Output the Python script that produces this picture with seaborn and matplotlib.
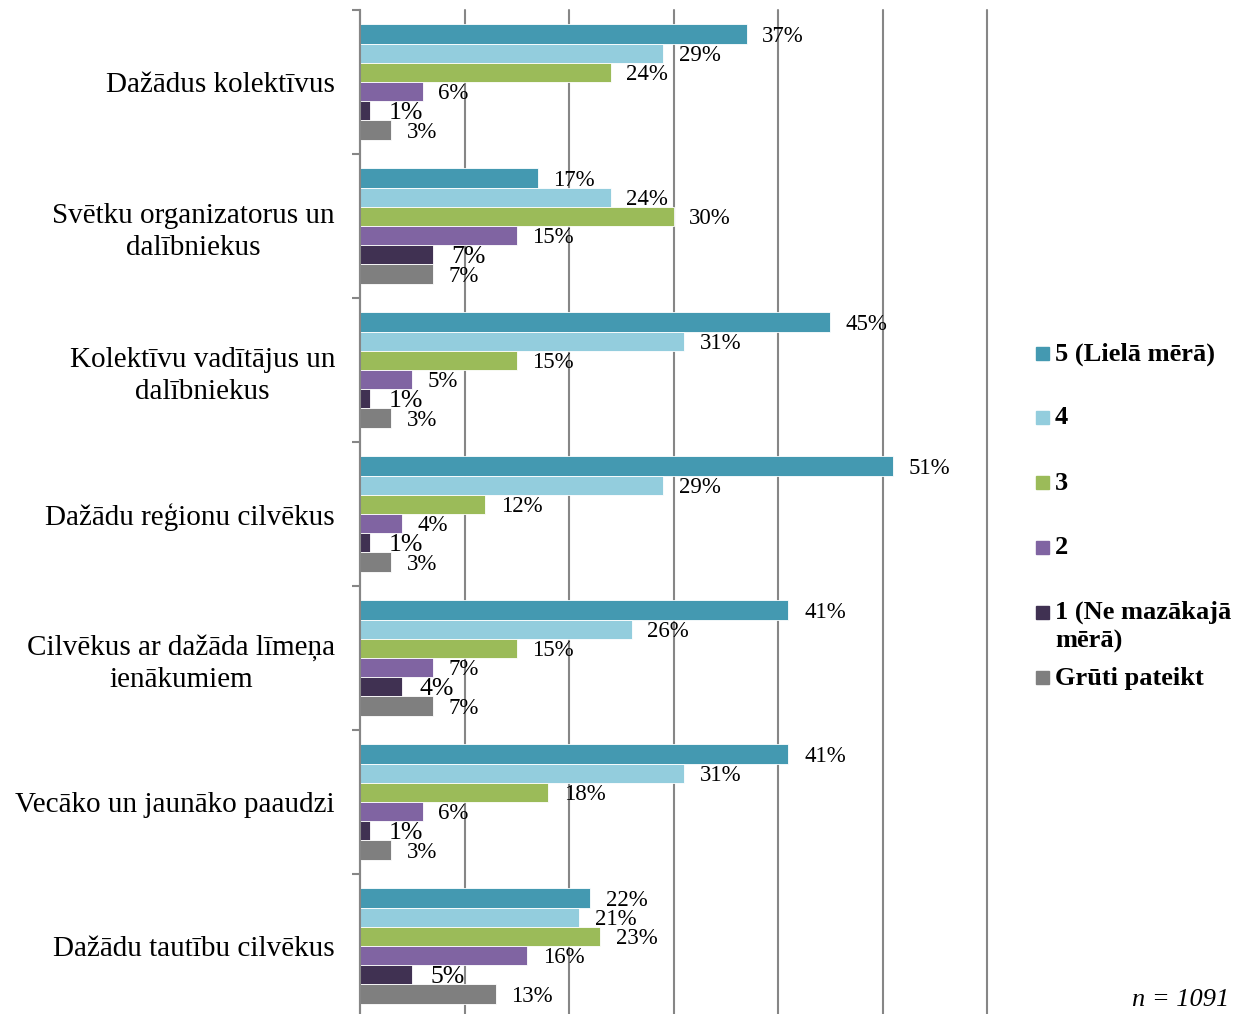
import matplotlib
matplotlib.use("Agg")
import matplotlib.pyplot as plt
from matplotlib.patches import Rectangle
import seaborn as sns
import pandas as pd

categories = [
    "Dažādus kolektīvus",
    "Svētku organizatorus un\ndalībniekus",
    "Kolektīvu vadītājus un\ndalībniekus",
    "Dažādu reģionu cilvēkus",
    "Cilvēkus ar dažāda līmeņa\nienākumiem",
    "Vecāko un jaunāko paaudzi",
    "Dažādu tautību cilvēkus",
]
series_names = ["5 (Lielā mērā)", "4", "3", "2", "1 (Ne mazākajā\nmērā)", "Grūti pateikt"]
s5 = [37, 17, 45, 51, 41, 41, 22]
s4 = [29, 24, 31, 29, 26, 31, 21]
s3 = [24, 30, 15, 12, 15, 18, 23]
s2 = [6, 15, 5, 4, 7, 6, 16]
s1 = [1, 7, 1, 1, 4, 1, 5]
s0 = [3, 7, 3, 3, 7, 3, 13]
colors = ["#4499B1", "#93CDDD", "#9BBB59", "#8064A2", "#403152", "#7F7F7F"]
n_text = "n = 1091"

all_series = [s5, s4, s3, s2, s1, s0]
rows = []
for name, vals in zip(series_names, all_series):
    for cat, v in zip(categories, vals):
        rows.append({"cat": cat, "series": name, "value": v})
df = pd.DataFrame(rows)

sns.set_theme(style="white")
plt.rcParams["font.family"] = ["Liberation Serif", "DejaVu Serif"]
plt.rcParams["text.color"] = "black"
plt.rcParams["ytick.color"] = "black"
plt.rcParams["ytick.labelcolor"] = "black"

fig = plt.figure(figsize=(12.46, 10.14), dpi=100)
ax = fig.add_axes([360 / 1246, -4 / 1014, 627 / 1246, 1008 / 1014])

sns.barplot(data=df, y="cat", x="value", hue="series", orient="h",
            palette=colors, order=categories, hue_order=series_names,
            width=0.8, ax=ax, legend=False, saturation=1,
            edgecolor="white", linewidth=0.6)

ax.set_xlim(0, 60)
ax.set_ylim(len(categories) - 0.5, -0.5)
ax.set_xticks(range(0, 61, 10))
ax.set_xticklabels([])
ax.tick_params(axis="x", length=0)
ax.grid(axis="x", color="#868686", linewidth=1.5)
ax.grid(axis="y", visible=False)
for gl in ax.get_xgridlines():
    gl.set_clip_on(False)
ax.set_axisbelow(True)
for side in ["top", "right", "bottom"]:
    ax.spines[side].set_visible(False)
ax.spines["left"].set_color("#868686")
ax.spines["left"].set_linewidth(1.5)

ax.set_yticks(range(len(categories)))
ax.set_yticklabels(categories, fontsize=21, multialignment="center", linespacing=1.3,
                   color="black")
ax.tick_params(axis="y", which="major", left=False, length=0, pad=18)
ax.set_yticks([i - 0.5 for i in range(len(categories) + 1)], minor=True)
ax.tick_params(axis="y", which="minor", left=True, length=6, width=1.5,
               color="#868686", direction="out")
ax.set_xlabel("")
ax.set_ylabel("")

for i, cont in enumerate(ax.containers):
    for bar in cont:
        w = bar.get_width()
        yc = bar.get_y() + bar.get_height() / 2
        fs = 18.5 if i == 4 else 16.5
        off = 1.7 if i == 4 else 1.5
        ax.text(w + off, yc + 0.015, f"{w:.0f}%", fontsize=fs, va="center", ha="left",
                color="black", clip_on=False)

# legend
leg_y = [354, 418, 483, 548, 613, 678]
for name, col, y in zip(series_names, colors, leg_y):
    fig.patches.append(Rectangle((1036 / 1246, 1 - (y + 6) / 1014), 13 / 1246, 13 / 1014,
                                 transform=fig.transFigure, color=col, figure=fig))
    if "\n" in name:
        fig.text(1055 / 1246, 1 - (y - 12) / 1014, name, fontsize=19, fontweight="bold",
                 va="top", ha="left", linespacing=1.3)
    else:
        fig.text(1055 / 1246, 1 - y / 1014, name, fontsize=19, fontweight="bold",
                 va="center", ha="left")

fig.text(1229 / 1246, 1 - 1000 / 1014, n_text, fontsize=19, style="italic",
         ha="right", va="center")

fig.savefig("out.png", dpi=100)
